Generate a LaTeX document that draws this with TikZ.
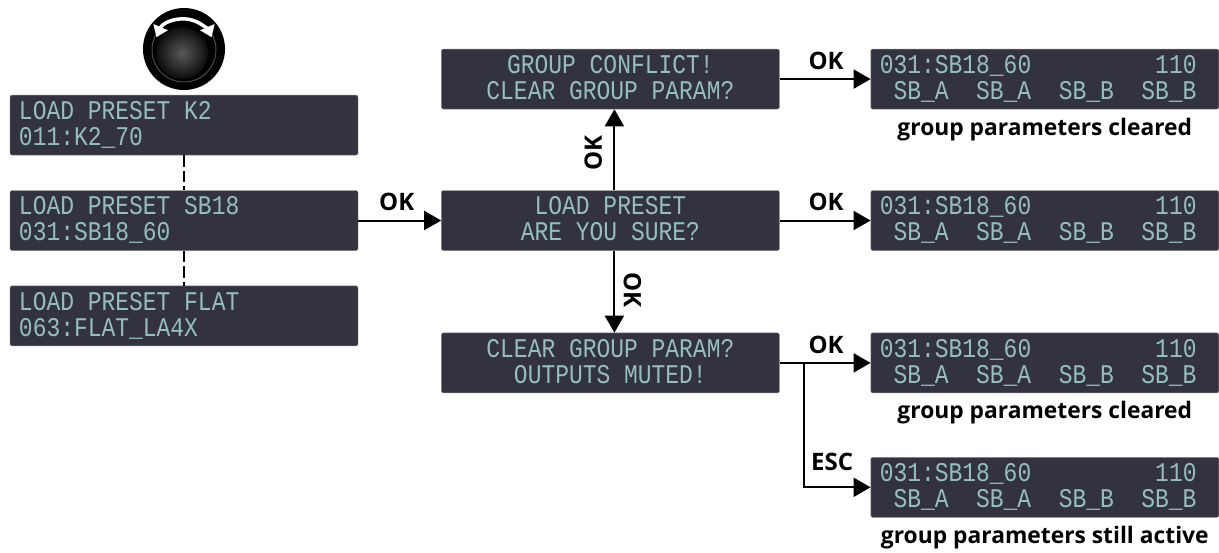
\documentclass[tikz,border=0pt]{standalone}
\usepackage{fontspec}
\setmainfont{Open Sans}
\newfontfamily\lcdfont[FakeStretch=0.85]{Liberation Mono}
\usepackage{tikz}
\usetikzlibrary{arrows.meta,positioning}
\definecolor{lcdback}{HTML}{32333F}
\definecolor{lcdtext}{HTML}{95BFBF}
\newcommand{\lcdrow}{\spaceskip=13.77pt\relax\vrule width 0pt height 20.2pt depth 5.8pt\relax}

\begin{document}
\begin{tikzpicture}[x=1pt,y=1pt,
                    lcd node/.style={rectangle,rounded corners=2pt,fill=lcdback,draw=lcdback!60!white,line width=0.4pt,
                      minimum width=348pt,minimum height=60pt,inner xsep=9pt,inner ysep=0pt,text=lcdtext,
                      font=\lcdfont\fontsize{27}{26}\selectfont},
                    left node/.style={lcd node,align=left,text width=330pt},
                    mid node/.style={lcd node,align=center,minimum width=338pt,text width=320pt},
                    key node/.style={font=\bfseries\fontsize{24}{24}\selectfont},
                    note node/.style={font=\bfseries\fontsize{22.8}{23}\selectfont},
                    flow/.style={line width=2pt,-{Triangle[length=17pt,width=19pt]}},
                    link/.style={line width=2pt,dash pattern=on 11.5pt off 4pt}]
  \useasboundingbox (0,0) rectangle (1219,-552);
  %left column%
  \node[left node] (sb18) at (184,-220.5) {\lcdrow LOAD PRESET SB18\\\lcdrow 031:SB18\_60};
  \node[left node] (k2) [above=35pt of sb18] {\lcdrow LOAD PRESET K2\\\lcdrow 011:K2\_70};
  \node[left node] (flat) [below=35pt of sb18] {\lcdrow LOAD PRESET FLAT\\\lcdrow 063:FLAT\_LA4X};
  %encoder knob%
  \node[circle,fill=black,minimum size=82pt,inner sep=0pt] (knob) at (184,-49) {};
  \node[circle,draw=black!70,line width=1pt,minimum size=64pt,inner sep=0pt] (rim) at (184,-50) {};
  \node[circle,inner color=black!65,outer color=black!95,minimum size=52pt,inner sep=0pt] (cap) at (182,-53) {};
  \draw[white,line width=3.5pt,{Triangle[length=11pt,width=15pt]}-{Triangle[length=11pt,width=15pt]}]
    ([shift={(157:30pt)}]knob.center) arc[start angle=157,end angle=23,radius=30pt];
  %middle column%
  \node[mid node] (sure) [right=83pt of sb18] {\lcdrow LOAD PRESET\\\lcdrow ARE YOU SURE?};
  \node[mid node] (conflict) [above=81pt of sure] {\lcdrow GROUP CONFLICT!\\\lcdrow CLEAR GROUP PARAM?};
  \node[mid node] (muted) [below=82pt of sure] {\lcdrow CLEAR GROUP PARAM?\\\lcdrow OUTPUTS MUTED!};
  %right column%
  \node[left node] (done1) [right=91pt of conflict] {\lcdrow 031:SB18\_60~~~~~~~~~110\\\lcdrow ~SB\_A~~SB\_A~~SB\_B~~SB\_B};
  \node[left node] (done2) [right=91pt of sure] {\lcdrow 031:SB18\_60~~~~~~~~~110\\\lcdrow ~SB\_A~~SB\_A~~SB\_B~~SB\_B};
  \node[left node] (done3) [right=91pt of muted] {\lcdrow 031:SB18\_60~~~~~~~~~110\\\lcdrow ~SB\_A~~SB\_A~~SB\_B~~SB\_B};
  \node[left node] (done4) [below=64pt of done3] {\lcdrow 031:SB18\_60~~~~~~~~~110\\\lcdrow ~SB\_A~~SB\_A~~SB\_B~~SB\_B};
  \node[note node] (note1) [below=5pt of done1] {group parameters cleared};
  \node[note node] (note3) [below=5pt of done3] {group parameters cleared};
  \node[note node] (note4) [below=5pt of done4] {group parameters still active};
  %connectors%
  \draw[link] (k2) -- (sb18);
  \draw[link] (sb18) -- (flat);
  \draw[flow] (sb18) -- node[key node,above=5pt,xshift=-3pt] (oka) {OK} (sure);
  \draw[flow] ([xshift=4pt]sure.north) -- node[key node,rotate=90,anchor=south,xshift=-3pt,yshift=8pt] (okb) {OK} ([xshift=4pt]conflict.south);
  \draw[flow] ([xshift=4pt]sure.south) -- node[key node,rotate=-90,anchor=south,xshift=-2pt,yshift=5pt] (okc) {OK} ([xshift=4pt]muted.north);
  \draw[flow] (conflict) -- node[key node,above=5pt,xshift=1pt] (okd) {OK} (done1);
  \draw[flow] (sure) -- node[key node,above=5pt,xshift=1pt] (oke) {OK} (done2);
  \draw[flow] (muted) -- node[key node,above=5pt,xshift=1pt] (okf) {OK} (done3);
  \coordinate[right=24pt of muted.east] (branch);
  \draw[flow] (branch) |- (done4);
  \node[key node] (esc) [above=13pt of branch |- done4,anchor=south west,xshift=4pt] {ESC};
\end{tikzpicture}
\end{document}
